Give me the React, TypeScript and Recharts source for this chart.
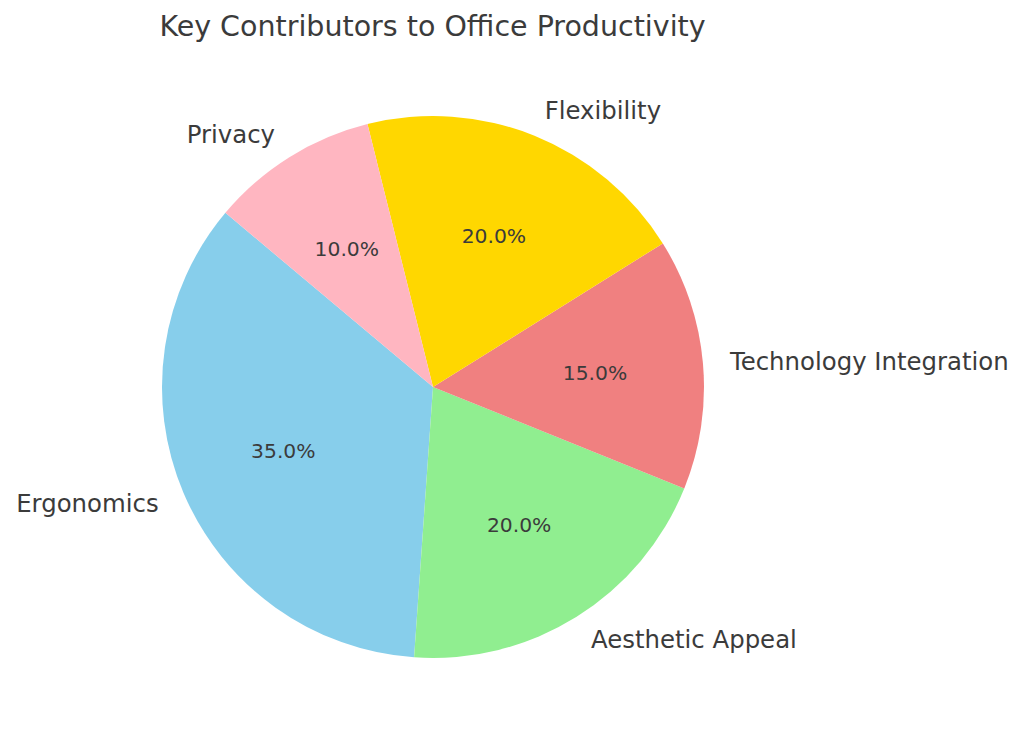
import React from "react";
import { PieChart, Pie, Cell } from "recharts";

const categories = ["Ergonomics", "Aesthetic Appeal", "Technology Integration", "Flexibility", "Privacy"];
const shares = [35, 20, 15, 20, 10];
const colors = ["#87CEEB", "#90EE90", "#F08080", "#FFD700", "#FFB6C1"];

const data = categories.map((name, i) => ({ name, value: shares[i] }));

const RAD = Math.PI / 180;
const textColor = "#3b3b3b";
const font = "DejaVu Sans, sans-serif";

function renderLabel(props: any) {
  const { cx, cy, midAngle, outerRadius, percent, name } = props;
  const cos = Math.cos(-midAngle * RAD);
  const sin = Math.sin(-midAngle * RAD);
  const ox = cx + outerRadius * 1.1 * cos;
  const oy = cy + outerRadius * 1.1 * sin;
  const px = cx + outerRadius * 0.6 * cos;
  const py = cy + outerRadius * 0.6 * sin;
  return (
    <g>
      <text x={ox} y={oy} fill={textColor} fontSize={24.4} fontFamily={font} textAnchor={cos >= 0 ? "start" : "end"} dominantBaseline="central">
        {name}
      </text>
      <text x={px} y={py} fill={textColor} fontSize={20.3} fontFamily={font} textAnchor="middle" dominantBaseline="central">
        {(percent * 100).toFixed(1)}%
      </text>
    </g>
  );
}

export default function App() {
  return (
    <div style={{ position: "absolute", left: 0, top: 0, width: 1024, height: 741, background: "#fff" }}>
      <div
        style={{
          position: "absolute",
          left: 0,
          top: 13,
          width: 865,
          textAlign: "center",
          fontFamily: font,
          fontSize: 28.5,
          lineHeight: "28px",
          color: textColor,
        }}
      >
        Key Contributors to Office Productivity
      </div>
      <PieChart width={1024} height={741}>
        <Pie
          data={data}
          dataKey="value"
          nameKey="name"
          cx={428}
          cy={382}
          outerRadius={271}
          startAngle={140}
          endAngle={500}
          stroke="none"
          label={renderLabel}
          labelLine={false}
          isAnimationActive={false}
        >
          {data.map((d, i) => (
            <Cell key={d.name} fill={colors[i]} />
          ))}
        </Pie>
      </PieChart>
    </div>
  );
}
